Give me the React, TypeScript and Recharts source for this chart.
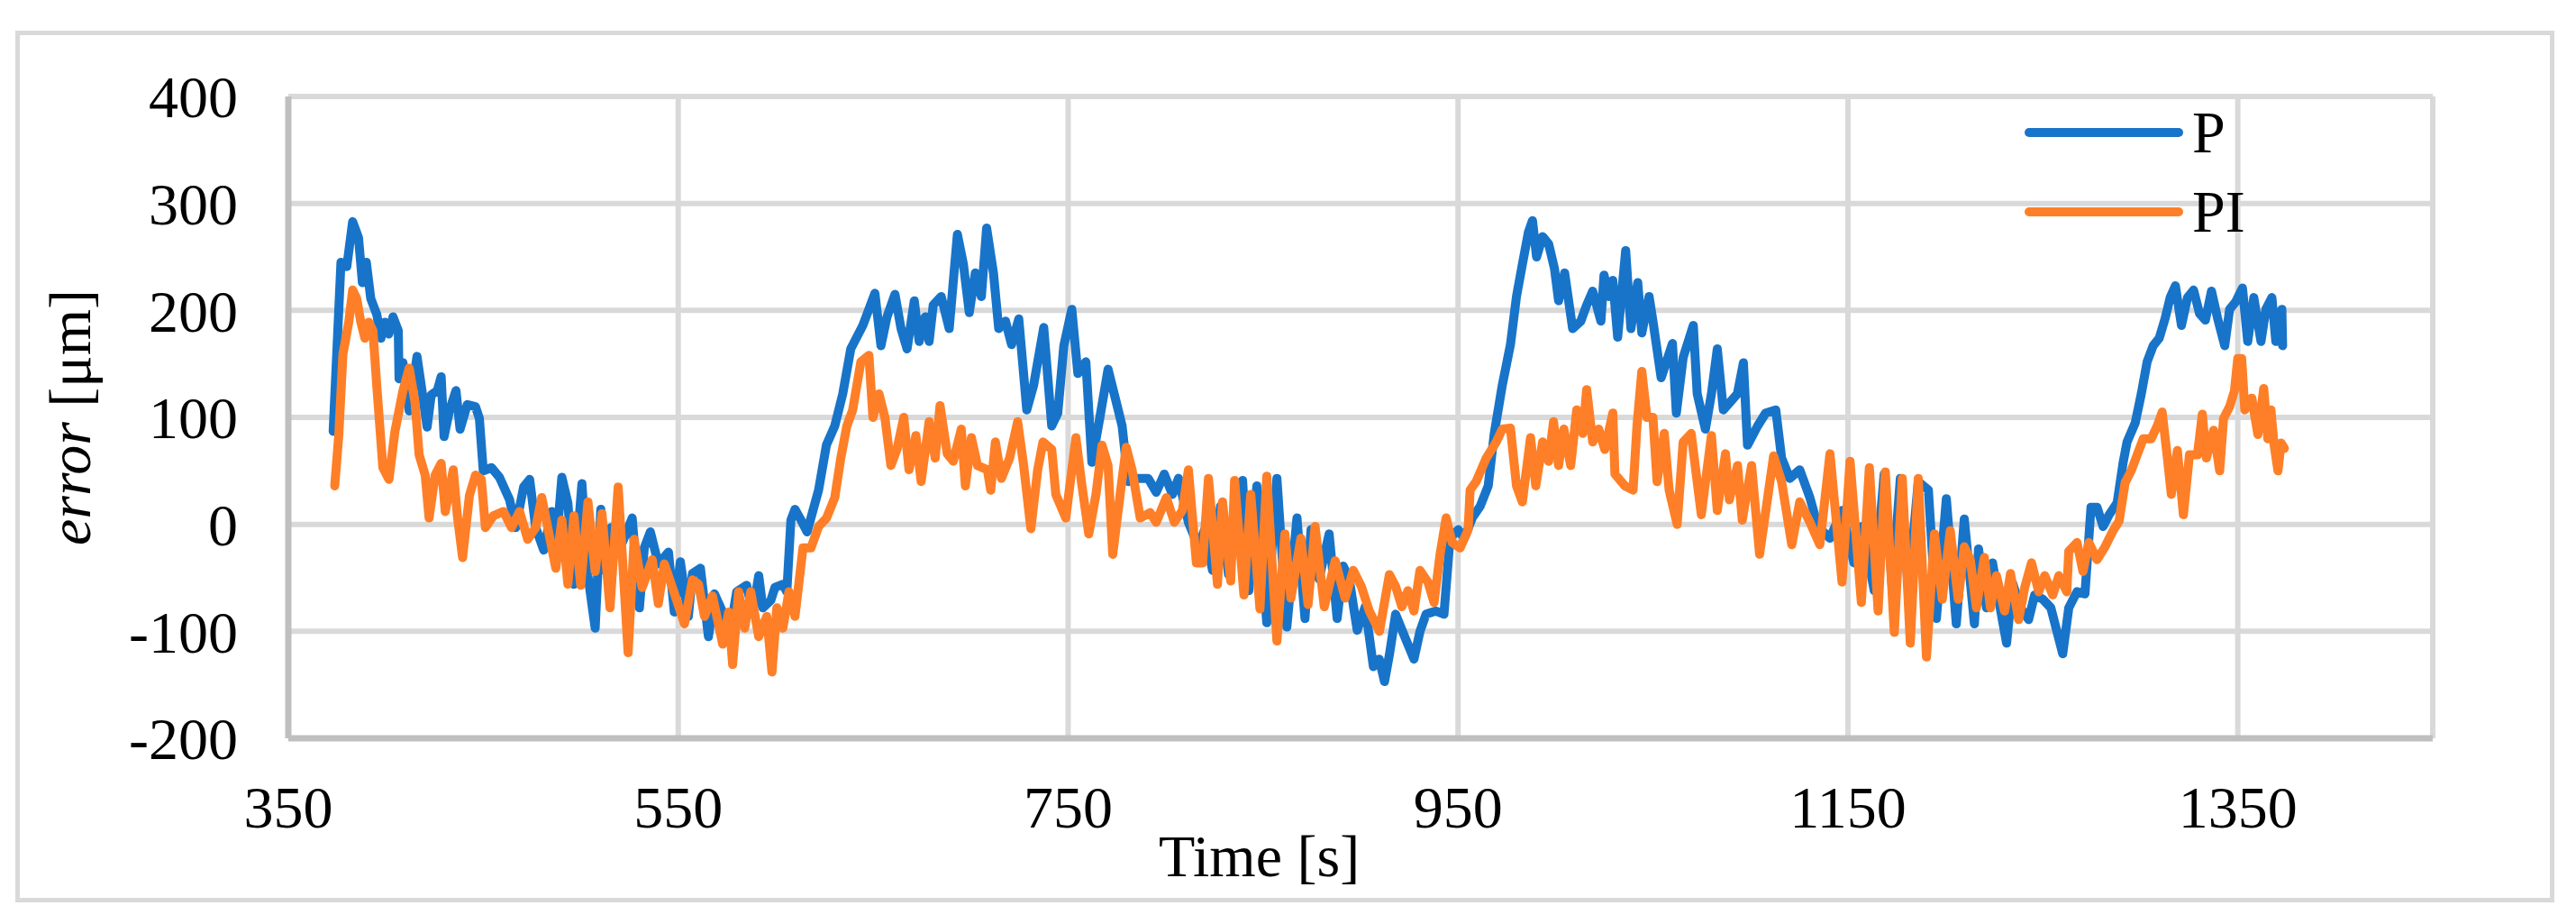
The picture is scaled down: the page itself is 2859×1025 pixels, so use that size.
import React from 'react';
import { LineChart, Line, XAxis, YAxis, CartesianGrid, Legend } from 'recharts';

// P controller error
const pTime = [
  373, 377, 380, 383, 386, 388, 390, 392.3, 395.4, 397.5, 399.6, 401.6, 403.7, 406.4, 406.8, 408.8, 412, 416, 418, 421.2,
  423.3, 426.4, 428.4, 429.9, 432.6, 436, 438.1, 441.8, 446, 448, 450, 454.2, 458.3, 463.5, 466.6, 470.7, 473.8, 476.9, 481, 485.1,
  487.2, 490.3, 493.4, 496.5, 500.6, 503.7, 507.4, 510.3, 513, 515.6, 520.2, 526.4, 530.1, 532.6, 535.7, 539.8, 545, 548, 551.1, 555.2,
  557.3, 561.4, 565.5, 568.6, 572.8, 575.9, 580, 585.1, 588.2, 591.3, 593.4, 597.5, 599.6, 603.7, 605.7, 607.8, 609.9, 613, 616.1,
  622, 626, 630.3, 634.4, 638.5, 641.6, 644.7, 650.9, 654, 657.1, 661.2, 664.3, 667.4, 671.1, 673.6, 676.7, 678.7, 680.8, 684.9, 689,
  693.2, 696.3, 699.3, 702.4, 705.5, 708.2, 711.7, 714.4, 717.9, 721, 724.7, 728.8, 732.3, 737.5, 741.6, 744.7, 747.8, 751.9, 755, 759.1,
  762.2, 766.3, 770.5, 774.6, 777.7, 780.8, 785.9, 791.1, 795.2, 799.3, 803.5, 806.6, 811.7, 816.9, 820, 824.1, 828.2, 832.3, 836.5, 839.5,
  842.7, 846.8, 851.9, 857.1, 862.2, 867.4, 871.5, 874.6, 878.7, 883.9, 888, 891.1, 894.2, 898.3, 902.4, 906.6, 909.6, 912.3, 914.8,
  918, 922.2, 927.4, 930.5, 933.6, 938.7, 942.8, 945.9, 950.1, 953.2, 957.3, 961.4, 965.5, 968.6, 972.7, 976.9, 980, 983, 986.1, 988.2,
  990.3, 993.4, 996.5, 999.5, 1001.6, 1004.7, 1008.8, 1013, 1016, 1019.1, 1023.3, 1024.9, 1027.4, 1029.4, 1031.9, 1036, 1038.7, 1042.2, 1044.3, 1048,
  1050, 1054.2, 1060, 1062, 1065.5, 1070.7, 1072.7, 1076.9, 1080, 1083, 1086.1, 1093.3, 1096.4, 1098.5, 1103.7, 1107.8, 1113, 1116, 1120.2, 1125.3,
  1130.5, 1134.6, 1140.8, 1147, 1153.1, 1157.3, 1163.5, 1168.6, 1172.7, 1176.9, 1181, 1186.1, 1191.3, 1195.4,
  1200.5, 1205.6, 1209.7, 1214.9, 1217, 1221.1, 1224.2, 1227.3, 1231.4, 1234.5, 1238.6, 1242.7, 1245.8, 1250, 1254.1, 1257.2, 1260.2, 1263.3, 1267.5, 1271.6,
  1274.7, 1277.8, 1280.9, 1284, 1288.1, 1291.2, 1293.2, 1297.4, 1300.5, 1303.5, 1306.6, 1309.7, 1312.8, 1315.3, 1318, 1321.1, 1324.2, 1327.3, 1330.4, 1333.4,
  1336.5, 1339.6, 1343.3, 1345.8, 1348.9, 1352.4, 1355.1, 1358.2, 1361.9, 1364.4, 1367.5, 1369.5, 1372.6, 1373,
];
const pError = [
  87, 245, 241, 283, 268, 226, 245, 211, 196, 174, 189, 178, 194, 181, 136, 151, 106, 157, 132, 91,
  121, 125, 138, 82, 106, 125, 89, 112, 110, 99, 50, 53, 44, 23, -3, 35, 42, -3, -24, 12,
  -26, 44, 20, -56, 38, -48, -97, 14, -44, -3, -22, 6, -78, -22, -7, -37, -26, -82, -35, -86,
  -46, -41, -105, -65, -82, -108, -63, -57, -82, -48, -78, -71, -59, -56, -63, 4, 14, 4, -7,
  32, 74, 92, 122, 164, 175, 186, 216, 167, 194, 215, 183, 164, 209, 171, 194, 171, 205, 213, 183,
  271, 243, 198, 235, 213, 277, 235, 183, 190, 168, 192, 107, 130, 184, 92, 104, 167, 201, 141, 152,
  58, 100, 145, 115, 92, 40, 43, 43, 30, 47, 28, 43, 2, -21, -5, -43, 17, -47, 2, 41,
  -62, 36, -92, 43, -96, 6, -88, -5, -51, -9, -88, -39, -51, -99, -77, -133, -126, -147, -122,
  -84, -103, -126, -100, -84, -81, -84, -13, -5, -13, 6, 17, 36, 85, 130, 168, 213, 243, 273, 284,
  250, 269, 262, 239, 209, 235, 183, 190, 205, 218, 190, 233, 213, 228, 175, 256, 183, 226, 179, 213,
  190, 137, 169, 104, 156, 186, 122, 89, 122, 164, 107, 122, 151, 74, 92, 104, 107, 62, 43, 51,
  25, -2, -13, 13, -36, -2, -62, 47, -58, 43, -62, 40, 32, -88,
  24, -93, 5, -93, -23, -78, -36, -70, -111, -55, -78, -89, -66, -70, -78, -100, -121, -78, -63, -65,
  16, 16, -2, 9, 20, 58, 77, 95, 122, 152, 167, 174, 193, 212, 223, 186, 212, 219, 197, 191,
  218, 193, 167, 201, 208, 221, 171, 212, 171, 201, 212, 171, 201, 167,
];

// PI controller error
const piTime = [
  373.8, 375.9, 378, 381, 383, 385.1, 387.2, 389.3, 391.3, 393.4, 395.4, 398.5, 401.6, 404.7, 408.8, 412, 415, 417.1, 420.2, 422.2,
  425.3, 428.4, 430.5, 434.6, 436.7, 439.4, 442.9, 446, 449, 451.1, 455.2, 460.4, 464.5, 468.6, 472.8, 476.9, 480, 483.1, 487.2, 490.3,
  493.4, 496.5, 500, 503.7, 507.4, 510.9, 515, 519.2, 524.3, 527.4, 531.5, 536.7, 539.8, 542.9, 547, 553.2, 557.3, 560.4, 563.5, 567.6,
  572.8, 575.9, 577.9, 581, 584.1, 587.2, 591.3, 595.4, 598.1, 600.6, 603.7, 606.8, 609.9, 614, 618.1,
  622, 626.1, 630.3, 633.4, 636.5, 639.5, 643.7, 647.8, 649.9, 653, 656, 659.1, 662.2, 665.7, 668.4, 671.9, 674.6, 678.7, 681.8, 684.3,
  688, 691.1, 695.2, 697.3, 700.4, 703.5, 708.6, 710.3, 712.7, 715.8, 720, 724.1, 727.2, 730.9, 734.4, 737.1, 741.6, 743.7, 748.8, 754,
  757.1, 760.6, 764.3, 767.4, 770.5, 772.9, 776.7, 779.8, 782.8, 787, 792.1, 795.2, 800.4, 804.5, 808.6, 811.7, 815.8, 819, 822, 826.6,
  829.2, 833.4, 835.4, 840.2, 843.7, 848.4, 851.9, 857.1, 861.2, 864.3, 869.4, 873.1, 876.7, 881.4, 887, 892.1, 896.3, 900.4, 904.5, 909.7,
  914.8,
  918, 921.2, 924.3, 927.4, 930.5, 934.6, 937.7, 940.8, 943.9, 947, 951.1, 955.2, 956.2, 959.3, 964.5, 969.6, 972.7, 976.9, 980, 983,
  987.2, 989.9, 993.4, 996.5, 999, 1001.6, 1004.3, 1007.8, 1010.9, 1014, 1016, 1019.1, 1022.2, 1025.3, 1029.4, 1030.5, 1035.6, 1039.8, 1041.8, 1044.3,
  1046.9, 1050, 1052.1, 1055.8, 1058.3, 1062.4, 1065.5, 1069.6, 1074.8, 1080, 1083, 1087.2, 1089.2, 1093.4, 1095.8, 1100.6, 1104.7, 1111.9, 1116, 1121.2,
  1125.3, 1130.5, 1135.6, 1140.8, 1147, 1151.1, 1156.9, 1161, 1165.5, 1169.2, 1173.8, 1177.9, 1182, 1186.1, 1190.3, 1194.4,
  1198.4, 1202.5, 1206.6, 1209.7, 1212.8, 1215.9, 1220, 1223.1, 1226.2, 1230.4, 1233.4, 1237.6, 1240.7, 1244.2, 1247.9, 1251, 1255.1, 1258.2, 1262.3, 1263.3,
  1267.5, 1270.6, 1273.6, 1277.8, 1281.9, 1286, 1289.1, 1292.2, 1295.3, 1298.4, 1301.5, 1305.6, 1308.7, 1311.2, 1313.9, 1315.9, 1319, 1322.1, 1325.2, 1329.3,
  1331.8, 1333.9, 1337.6, 1340.7, 1342.7, 1345.8, 1348.3, 1350, 1352, 1353.6, 1357.2, 1360.3, 1363.3, 1365.4, 1367, 1368.5, 1370.6, 1372.2, 1373.9,
];
const piError = [
  36, 84, 159, 189, 219, 211, 189, 174, 189, 181, 129, 53, 42, 87, 125, 146, 114, 65, 46, 6,
  46, 57, 12, 51, 8, -31, 27, 46, 42, -3, 8, 12, -3, 12, -14, -3, 25, -3, -41, 4,
  -56, 8, -57, 21, -44, 10, -78, 35, -120, -14, -59, -33, -74, -37, -59, -93, -52, -56, -86, -67,
  -112, -82, -131, -63, -97, -63, -105, -86, -138, -78, -97, -63, -86, -22, -22,
  -2, 6, 25, 62, 92, 107, 152, 158, 100, 122, 100, 55, 70, 100, 51, 83, 40, 96, 62, 111,
  66, 59, 89, 36, 81, 55, 51, 32, 77, 43, 62, 96, 55, -4, 51, 77, 70, 28, 6, 81,
  36, -9, 28, 74, 55, -28, 28, 72, 51, 6, 11, 2, 25, 2, 13, 51, -36, -36, 43, -56,
  21, -53, 41, -66, 28, -79, 45, -109, -9, -69, -13, -75, -2, -77, -34, -69, -43, -58, -81, -100,
  -47,
  -58, -77, -62, -81, -43, -54, -73, -28, 6, -17, -22, -5, 32, 40, 62, 77, 89, 90, 36, 21,
  81, 36, 77, 59, 96, 55, 89, 55, 107, 85, 126, 77, 89, 70, 104, 47, 36, 32, 92, 143,
  100, 100, 40, 85, 32, 0, 77, 85, 9, 83, 13, 66, 23, 55, 4, 55, -28, 64, 40, -19,
  21, 2, -19, 66, -54, 59, -73, 53, -81, 49, -101, 43, -111, 43, -124, -9,
  -70, -6, -70, -21, -33, -78, -31, -78, -48, -81, -46, -89, -59, -36, -63, -48, -66, -48, -63, -25,
  -17, -44, -17, -33, -21, -6, 3, 39, 50, 65, 80, 80, 92, 105, 62, 28, 69, 9, 65, 65,
  103, 62, 88, 50, 99, 110, 125, 155, 155, 107, 118, 84, 127, 80, 107, 76, 50, 76, 71,
];

const xTicks = [350, 550, 750, 950, 1150, 1350];
const yTicks = [-200, -100, 0, 100, 200, 300, 400];

const toRows = (t: number[], v: number[]) => t.map((x, i) => ({ t: x, v: v[i] }));
const pData = toRows(pTime, pError);
const piData = toRows(piTime, piError);

const serif = '"Liberation Serif", "Times New Roman", serif';
const tickStyle = { fill: '#000', fontSize: 66, fontFamily: serif };

const renderLegend = (props: any) => (
  <div>
    {(props.payload || []).map((entry: any) => (
      <div key={entry.value} style={{ display: 'flex', alignItems: 'center', height: 88 }}>
        <svg width={180} height={14}>
          <line x1={7} y1={7} x2={173} y2={7} stroke={entry.color} strokeWidth={10} strokeLinecap="round" />
        </svg>
        <span style={{ fontFamily: serif, fontSize: 66, marginLeft: 8, lineHeight: 1, color: '#000' }}>{entry.value}</span>
      </div>
    ))}
  </div>
);

const App: React.FC = () => {
  return (
    <div style={{ position: 'absolute', left: 0, top: 0, width: 2859, height: 1025, background: '#fff' }}>
      <div
        style={{
          position: 'absolute', left: 17, top: 34, width: 2818, height: 967,
          border: '5px solid #d9d9d9', boxSizing: 'border-box',
        }}
      />
      <div style={{ position: 'absolute', left: 0, top: 0 }}>
        <LineChart width={2859} height={1025} margin={{ top: 107, right: 159, bottom: 0, left: 0 }}>
          <CartesianGrid stroke="#d9d9d9" strokeWidth={6} />
          <XAxis
            type="number"
            dataKey="t"
            domain={[350, 1450]}
            ticks={xTicks}
            height={206}
            tickSize={0}
            tickMargin={52}
            tick={tickStyle}
            axisLine={{ stroke: '#bfbfbf', strokeWidth: 7 }}
            tickLine={false}
            allowDataOverflow
          />
          <YAxis
            type="number"
            domain={[-200, 400]}
            ticks={yTicks}
            width={320}
            tickSize={0}
            tickMargin={56}
            tick={tickStyle}
            axisLine={{ stroke: '#bfbfbf', strokeWidth: 7 }}
            tickLine={false}
          />
          <Legend
            layout="vertical"
            align="center"
            verticalAlign="middle"
            wrapperStyle={{ left: 2245, top: 103, width: 320 }}
            content={renderLegend}
          />
          <Line
            data={pData}
            dataKey="v"
            name="P"
            type="linear"
            stroke="#1874c9"
            strokeWidth={10}
            strokeLinejoin="round"
            strokeLinecap="round"
            dot={false}
            activeDot={false}
            isAnimationActive={false}
          />
          <Line
            data={piData}
            dataKey="v"
            name="PI"
            type="linear"
            stroke="#fe7f27"
            strokeWidth={10}
            strokeLinejoin="round"
            strokeLinecap="round"
            dot={false}
            activeDot={false}
            isAnimationActive={false}
          />
        </LineChart>
      </div>
      <div
        style={{
          position: 'absolute', left: 78, top: 463, transform: 'translate(-50%, -50%) rotate(-90deg)',
          fontFamily: serif, fontSize: 66, lineHeight: 1, whiteSpace: 'nowrap', color: '#000',
        }}
      >
        <i>error</i> [μm]
      </div>
      <div
        style={{
          position: 'absolute', left: 1286, top: 917,
          fontFamily: serif, fontSize: 66, lineHeight: 1, whiteSpace: 'nowrap', color: '#000',
        }}
      >
        Time [s]
      </div>
    </div>
  );
};

export default App;
